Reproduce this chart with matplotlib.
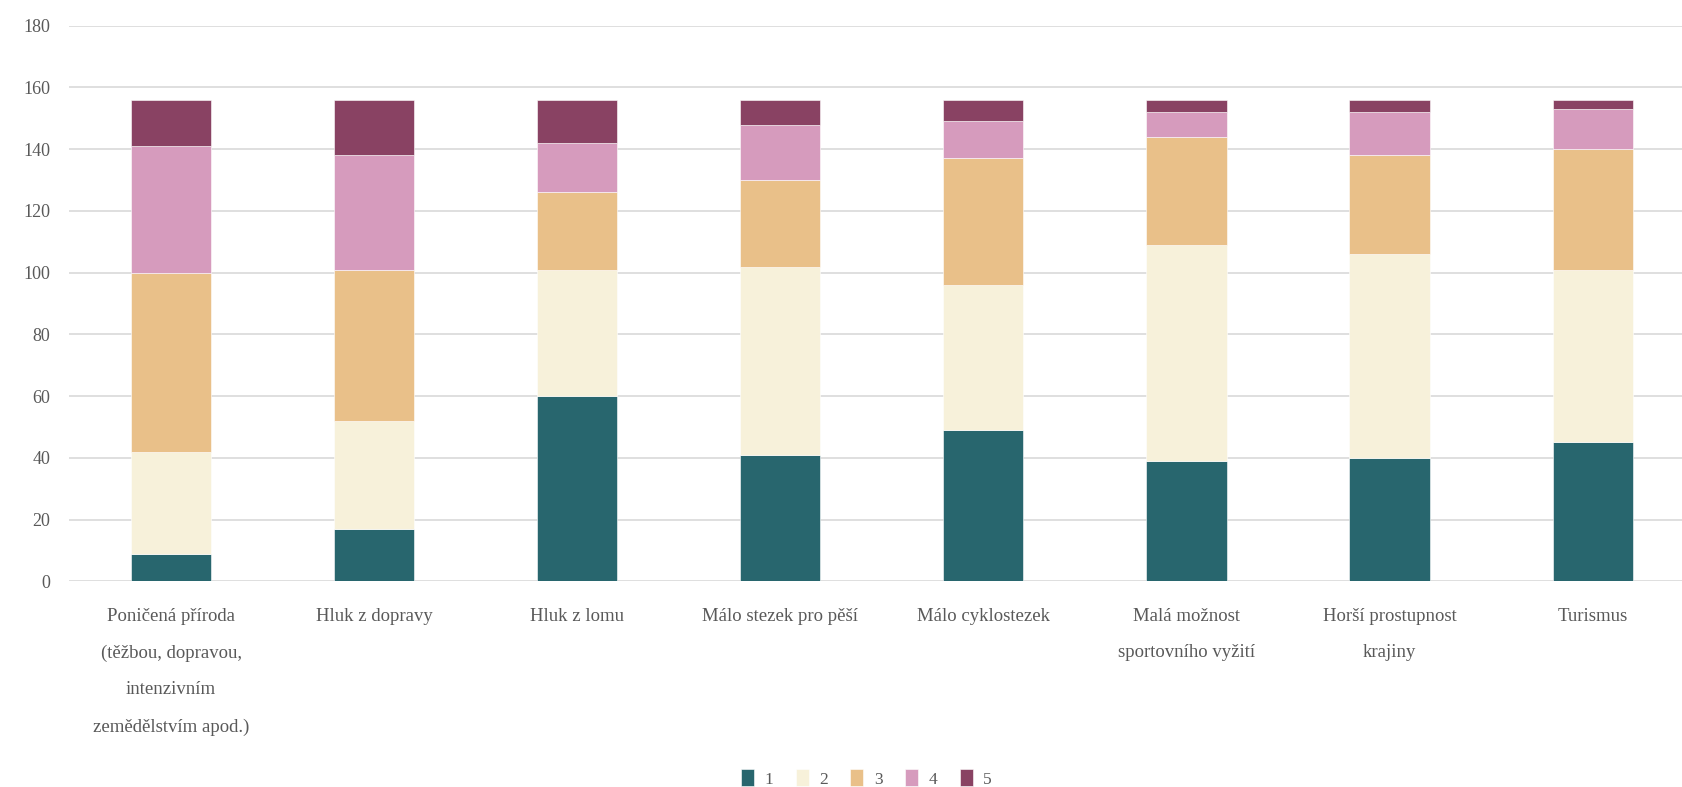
import numpy as np
import matplotlib
matplotlib.use("Agg")
import matplotlib.pyplot as plt

categories = [
    "Poničená příroda\n(těžbou, dopravou,\nintenzivním\nzemědělstvím apod.)",
    "Hluk z dopravy",
    "Hluk z lomu",
    "Málo stezek pro pěší",
    "Málo cyklostezek",
    "Malá možnost\nsportovního vyžití",
    "Horší prostupnost\nkrajiny",
    "Turismus",
]
series_names = ["1", "2", "3", "4", "5"]
s1 = [9, 17, 60, 41, 49, 39, 40, 45]
s2 = [33, 35, 41, 61, 47, 70, 66, 56]
s3 = [58, 49, 25, 28, 41, 35, 32, 39]
s4 = [41, 37, 16, 18, 12, 8, 14, 13]
s5 = [15, 18, 14, 8, 7, 4, 4, 3]
colors = ["#28666e", "#f7f1da", "#e9c089", "#d69bbd", "#894263"]

plt.rcParams["font.family"] = ["Liberation Serif", "DejaVu Serif"]
text_color = "#595959"

fig = plt.figure(figsize=(16.82, 7.87), dpi=100)
ax = fig.add_axes([0.0413, 0.2613, 1 - 0.0413, 0.9673 - 0.2613])

x = np.arange(len(categories))
bottom = np.zeros(len(categories))
for name, vals, col in zip(series_names, [s1, s2, s3, s4, s5], colors):
    ax.bar(x, vals, width=0.395, bottom=bottom, color=col, label=name,
           edgecolor="white", linewidth=0.4, zorder=3)
    bottom += np.array(vals)

ax.set_ylim(0, 180)
ax.set_xlim(-0.5, 7.44)
ax.set_yticks(np.arange(0, 181, 20))
ax.yaxis.grid(True, color="#d9d9d9", linewidth=1.2, zorder=0)
ax.set_axisbelow(True)
for sp in ax.spines.values():
    sp.set_visible(False)
ax.tick_params(axis="both", length=0, colors=text_color)
ax.tick_params(axis="y", pad=14, labelsize=13)
ax.set_xticks(x)
ax.set_xticklabels(categories, linespacing=2.5, fontsize=13.5)
ax.tick_params(axis="x", pad=19)

ax.legend(loc="center", bbox_to_anchor=(0.515, 0.011), bbox_transform=fig.transFigure,
          ncol=5, frameon=False, fontsize=12.5, handlelength=0.75, handleheight=1.15,
          handletextpad=0.6, columnspacing=1.3, labelcolor=text_color)

fig.savefig("out.png", dpi=100)
